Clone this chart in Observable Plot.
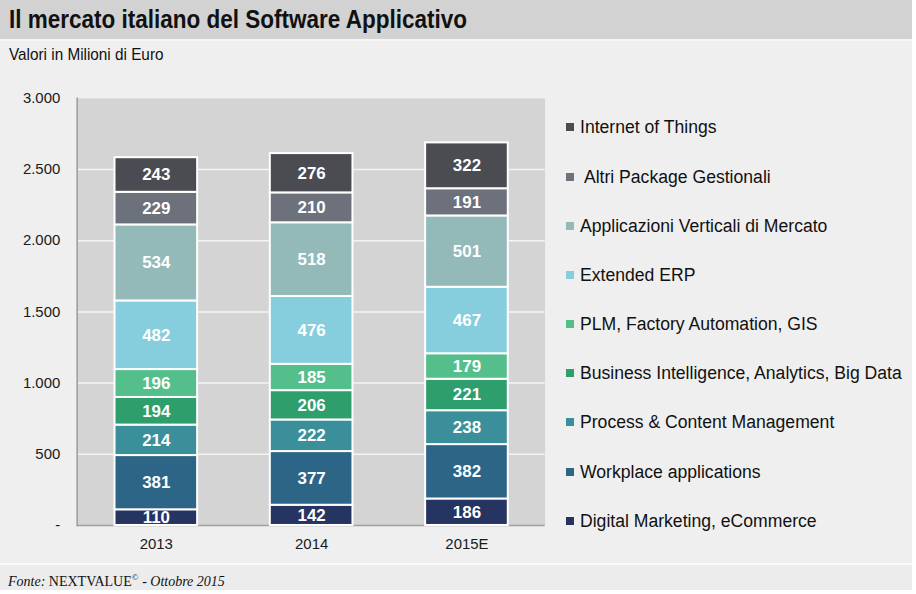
<!DOCTYPE html>
<html><head><meta charset="utf-8">
<script src="https://cdn.jsdelivr.net/npm/d3@7"></script>
<script src="https://cdn.jsdelivr.net/npm/@observablehq/plot@0.6"></script>
<style>
body{margin:0;background:#ffffff;}
#wrap{position:relative;width:912px;height:590px;background:#efefef;font-family:Arial,"Liberation Sans",sans-serif;overflow:hidden;color:#111}
#title{position:absolute;left:0;top:0;width:912px;height:39px;background:#d2d2d2;border-bottom:2px solid #f6f6f6;font-weight:bold;font-size:25px;line-height:38px;color:#111;white-space:nowrap}
#title span,#sub span{display:inline-block;transform:scaleX(0.9);transform-origin:0 50%}
#title span{margin-left:9px}
#sub{position:absolute;left:9px;top:45px;font-size:17px;white-space:nowrap}
#chart{position:absolute;left:0;top:62px}
.leg{position:absolute;left:566px;font-size:17.6px;white-space:pre;line-height:20px}
.leg span{display:inline-block;width:8px;height:8px;margin-right:6px;vertical-align:2px}
#cap{position:absolute;left:0;top:563px;width:912px;height:27px;border-top:2px solid #fbfbfb;background:#ececec;font-family:"Liberation Serif","Times New Roman",serif;font-size:14px;line-height:24px;text-indent:8px}
</style></head>
<body>
<div id="wrap">
<div id="title"><span>Il mercato italiano del Software Applicativo</span></div>
<div id="sub"><span>Valori in Milioni di Euro</span></div>
<div id="chart"></div>
<div id="legend"></div>
<div id="cap"><i>Fonte:</i> NEXTVALUE<sup style="font-size:9px">©</sup> <i>- Ottobre 2015</i></div>
</div>
<script>
const years = ["2013", "2014", "2015E"];
const series = ["Digital Marketing, eCommerce", "Workplace applications", "Process & Content Management", "Business Intelligence, Analytics, Big Data", "PLM, Factory Automation, GIS", "Extended ERP", "Applicazioni Verticali di Mercato", " Altri Package Gestionali", "Internet of Things"];
const values2013 = [110, 381, 214, 194, 196, 482, 534, 229, 243];
const values2014 = [142, 377, 222, 206, 185, 476, 518, 210, 276];
const values2015E = [186, 382, 238, 221, 179, 467, 501, 191, 322];
const colors = ["#263461", "#2c6586", "#3a8f9b", "#2f9e6d", "#55bf8c", "#86cddd", "#94b9b9", "#6d717b", "#4b4c52"];
const yTicks = [0, 500, 1000, 1500, 2000, 2500, 3000];

const byYear = [values2013, values2014, values2015E];
const data = [];
years.forEach((y, i) => series.forEach((s, j) => data.push({year: y, series: s, value: byYear[i][j]})));

const fmt = d => d === 0 ? "-" : d3.format(",")(d).replace(/,/g, ".");

const chart = Plot.plot({
  width: 916, height: 500,
  marginLeft: 77, marginRight: 369, marginTop: 36, marginBottom: 35,
  style: {fontSize: "15px", fontFamily: "Arial, 'Liberation Sans', sans-serif", color: "#1a1a1a", background: "transparent"},
  x: {domain: years, paddingInner: 0.47, paddingOuter: 0.235, label: null, tickSize: 0, tickPadding: 13},
  y: {domain: [0, 3000], ticks: yTicks, tickFormat: fmt, label: null, tickSize: 0, tickPadding: 17},
  color: {domain: series, range: colors},
  marks: [
    Plot.frame({fill: "#d4d4d4", stroke: null}),
    Plot.gridY(yTicks.filter(t => t > 0 && t < 3000), {stroke: "#f4f4f4", strokeOpacity: 1, strokeWidth: 1.5}),
    Plot.ruleY([0], {stroke: "#a0a0a0", strokeWidth: 1.5}),
    Plot.frame({anchor: "left", stroke: "#9a9a9a", strokeWidth: 1.5}),
    Plot.barY(data, {x: "year", y: "value", fill: "series", stroke: "white", strokeWidth: 2}),
    Plot.text(data, Plot.stackY({x: "year", y: "value", z: "series", text: d => String(d.value), fill: "white", fontWeight: "bold", fontSize: 17}))
  ]
});
document.getElementById("chart").appendChild(chart);

const legendCenters = [127, 177, 226, 275, 324, 373, 422, 472, 521];
const leg = document.getElementById("legend");
series.slice().reverse().forEach((s, i) => {
  const div = document.createElement("div");
  div.className = "leg";
  div.style.top = (legendCenters[i] - 10) + "px";
  const sw = document.createElement("span");
  sw.style.background = colors[series.length - 1 - i];
  div.appendChild(sw);
  div.appendChild(document.createTextNode(s));
  leg.appendChild(div);
});
</script>
</body></html>
